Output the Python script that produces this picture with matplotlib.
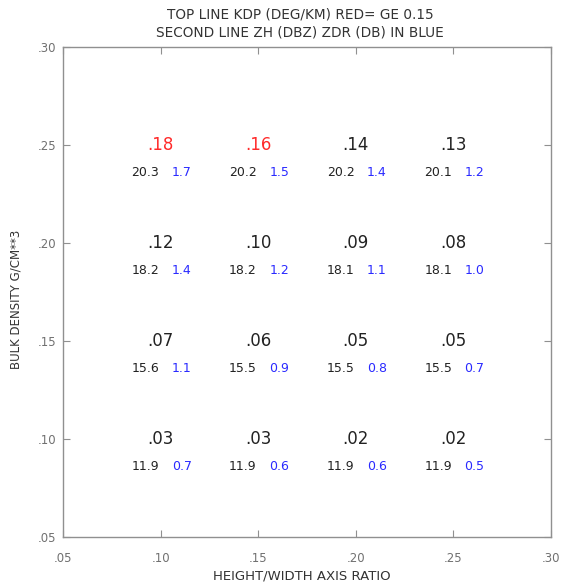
import numpy as np
import matplotlib.pyplot as plt

# grid of (axis ratio, bulk density) cases
ratio = [0.10, 0.15, 0.20, 0.25]
density = [0.25, 0.20, 0.15, 0.10]

# rows follow density, columns follow ratio
kdp = [[0.18, 0.16, 0.14, 0.13],
       [0.12, 0.10, 0.09, 0.08],
       [0.07, 0.06, 0.05, 0.05],
       [0.03, 0.03, 0.02, 0.02]]
zh = [[20.3, 20.2, 20.2, 20.1],
      [18.2, 18.2, 18.1, 18.1],
      [15.6, 15.5, 15.5, 15.5],
      [11.9, 11.9, 11.9, 11.9]]
zdr = [[1.7, 1.5, 1.4, 1.2],
       [1.4, 1.2, 1.1, 1.0],
       [1.1, 0.9, 0.8, 0.7],
       [0.7, 0.6, 0.6, 0.5]]

ticks = [0.05, 0.10, 0.15, 0.20, 0.25, 0.30]
tick_labels = [".05", ".10", ".15", ".20", ".25", ".30"]

plt.rcParams['font.family'] = ['DejaVu Sans']

fig = plt.figure(figsize=(5.66, 5.86), dpi=100)
ax = fig.add_axes([63/566, 1-537/586, 488/566, 490/586])
ax.set_xlim(0.05, 0.30)
ax.set_ylim(0.05, 0.30)

for s in ax.spines.values():
    s.set_color('#909090')
    s.set_linewidth(1.0)

ax.set_xticks(ticks)
ax.set_yticks(ticks)
ax.set_xticklabels(tick_labels, color='#707070', fontsize=8.5)
ax.set_yticklabels(tick_labels, color='#707070', fontsize=8.5)
ax.tick_params(direction='in', length=5, color='#909090', top=True, right=True)
ax.tick_params(axis='x', pad=11)
ax.tick_params(axis='y', pad=5)

black = '#222222'
red = '#ff2a2a'
blue = '#2a2aff'
for i in range(len(density)):
    for j in range(len(ratio)):
        x = ratio[j]
        y = density[i]
        k = kdp[i][j]
        col = red if k >= 0.15 else black
        ax.text(x, y, ("%.2f" % k)[1:], color=col, fontsize=12,
                ha='center', va='center')
        ax.text(x - 0.0078, y - 0.0138, "%.1f" % zh[i][j], color=black,
                fontsize=9, ha='center', va='center')
        ax.text(x + 0.0108, y - 0.0138, "%.1f" % zdr[i][j], color=blue,
                fontsize=9, ha='center', va='center')

fig.text(0.53, 1-15/586, "TOP LINE KDP (DEG/KM) RED= GE 0.15",
         ha='center', va='center', fontsize=9.8, color='#333333')
fig.text(0.53, 1-33/586, "SECOND LINE ZH (DBZ) ZDR (DB) IN BLUE",
         ha='center', va='center', fontsize=9.8, color='#333333')

ax.set_xlabel("HEIGHT/WIDTH AXIS RATIO", fontsize=9.5, color='#333333', va='center')
ax.set_ylabel("BULK DENSITY G/CM**3", fontsize=8.5, color='#333333')
ax.xaxis.set_label_coords(0.49, -0.08)
ax.yaxis.set_label_coords(-0.084, 0.484)

fig.savefig("out.png", dpi=100)
